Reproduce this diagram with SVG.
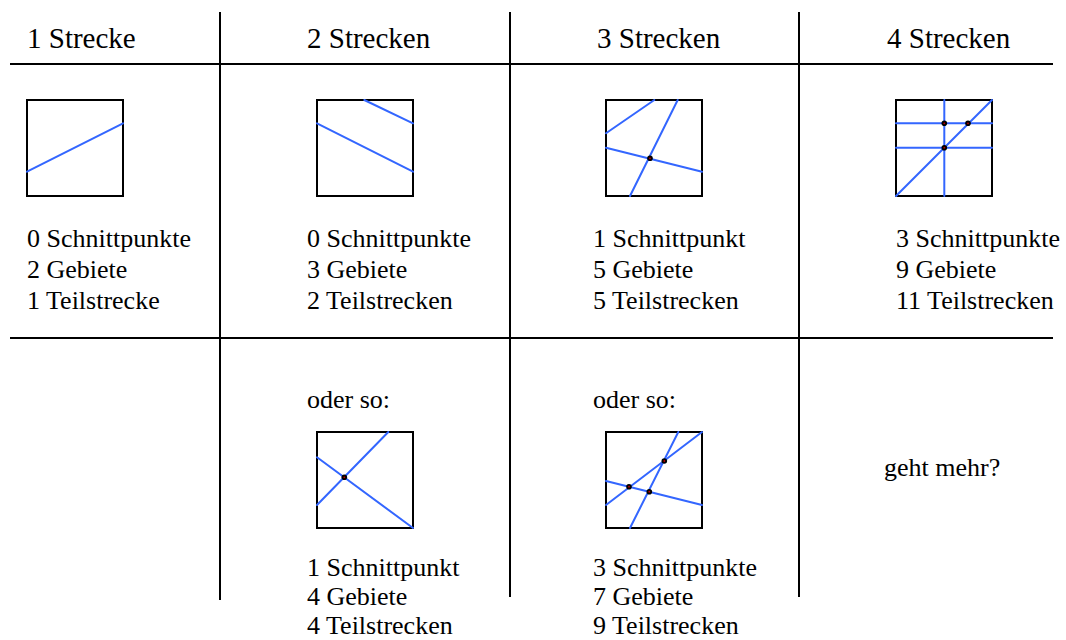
<svg xmlns="http://www.w3.org/2000/svg" width="1066" height="640" viewBox="0 0 1066 640">
<style>
text{font-family:"Liberation Serif","Times New Roman",serif;font-size:26px;fill:#000}
.hd{font-size:29px}
.grid{stroke:#000;stroke-width:2;fill:none}
.sq{stroke:#000;stroke-width:2;fill:#fff}
.bl{stroke:#3366ff;stroke-width:2;fill:none;stroke-linecap:round}
.dot{fill:#000}
.dc{fill:#c00000}
</style>
<rect width="1066" height="640" fill="#fff"/>
<g id="grid" class="grid">
<line x1="10" y1="64" x2="1053" y2="64"/>
<line x1="10" y1="338" x2="1053" y2="338"/>
<line x1="220" y1="12" x2="220" y2="600"/>
<line x1="510" y1="12" x2="510" y2="597"/>
<line x1="799" y1="12" x2="799" y2="597"/>
</g>
<g id="headers">
<text class="hd" x="27" y="48">1 Strecke</text>
<text class="hd" x="307" y="48">2 Strecken</text>
<text class="hd" x="597" y="48">3 Strecken</text>
<text class="hd" x="887" y="48">4 Strecken</text>
</g>
<g id="case1">
<rect class="sq" x="27" y="100" width="96" height="96"/>
<line class="bl" x1="27" y1="171.7" x2="123" y2="123.3"/>
<text x="27" y="247">0 Schnittpunkte</text>
<text x="27" y="278">2 Gebiete</text>
<text x="27" y="309">1 Teilstrecke</text>
</g>
<g id="case2">
<rect class="sq" x="317" y="100" width="96" height="96"/>
<line class="bl" x1="364.3" y1="100" x2="413" y2="123.3"/>
<line class="bl" x1="317" y1="123.3" x2="413" y2="171.7"/>
<text x="307" y="247">0 Schnittpunkte</text>
<text x="307" y="278">3 Gebiete</text>
<text x="307" y="309">2 Teilstrecken</text>
</g>
<g id="case3">
<rect class="sq" x="606" y="100" width="96" height="96"/>
<line class="bl" x1="606" y1="133.3" x2="654.3" y2="100"/>
<line class="bl" x1="677.7" y1="100" x2="630" y2="196"/>
<line class="bl" x1="606" y1="147.7" x2="702" y2="171.7"/>
<circle class="dot" cx="650" cy="158.3" r="2.8"/><circle class="dc" cx="650" cy="158.3" r="0.9"/>
<text x="593" y="247">1 Schnittpunkt</text>
<text x="593" y="278">5 Gebiete</text>
<text x="593" y="309">5 Teilstrecken</text>
</g>
<g id="case4">
<rect class="sq" x="896" y="100" width="96" height="96"/>
<line class="bl" x1="944.3" y1="100" x2="944.3" y2="196"/>
<line class="bl" x1="896" y1="123.3" x2="992" y2="123.3"/>
<line class="bl" x1="896" y1="147.7" x2="992" y2="147.7"/>
<line class="bl" x1="896" y1="196" x2="992" y2="100"/>
<circle class="dot" cx="944.3" cy="123.3" r="2.8"/><circle class="dc" cx="944.3" cy="123.3" r="0.9"/>
<circle class="dot" cx="968" cy="123.3" r="2.8"/><circle class="dc" cx="968" cy="123.3" r="0.9"/>
<circle class="dot" cx="944.3" cy="147.7" r="2.8"/><circle class="dc" cx="944.3" cy="147.7" r="0.9"/>
<text x="896" y="247">3 Schnittpunkte</text>
<text x="896" y="278">9 Gebiete</text>
<text x="896" y="309">11 Teilstrecken</text>
</g>
<g id="case2b">
<rect class="sq" x="317" y="432" width="96" height="96"/>
<line class="bl" x1="388.3" y1="432" x2="317" y2="505"/>
<line class="bl" x1="317" y1="457.3" x2="413" y2="528"/>
<circle class="dot" cx="344.3" cy="477.3" r="2.8"/><circle class="dc" cx="344.3" cy="477.3" r="0.9"/>
<text x="307" y="408">oder so:</text>
<text x="307" y="576">1 Schnittpunkt</text>
<text x="307" y="605">4 Gebiete</text>
<text x="307" y="634">4 Teilstrecken</text>
</g>
<g id="case3b">
<rect class="sq" x="606" y="432" width="96" height="96"/>
<line class="bl" x1="678.3" y1="432" x2="630" y2="528"/>
<line class="bl" x1="702" y1="432" x2="606" y2="505"/>
<line class="bl" x1="606" y1="481" x2="702" y2="505"/>
<circle class="dot" cx="664.3" cy="461" r="2.8"/><circle class="dc" cx="664.3" cy="461" r="0.9"/>
<circle class="dot" cx="629" cy="486.7" r="2.8"/><circle class="dc" cx="629" cy="486.7" r="0.9"/>
<circle class="dot" cx="649.3" cy="491.7" r="2.8"/><circle class="dc" cx="649.3" cy="491.7" r="0.9"/>
<text x="593" y="408">oder so:</text>
<text x="593" y="576">3 Schnittpunkte</text>
<text x="593" y="605">7 Gebiete</text>
<text x="593" y="634">9 Teilstrecken</text>
</g>
<g id="more">
<text x="884" y="476">geht mehr?</text>
</g>
</svg>
